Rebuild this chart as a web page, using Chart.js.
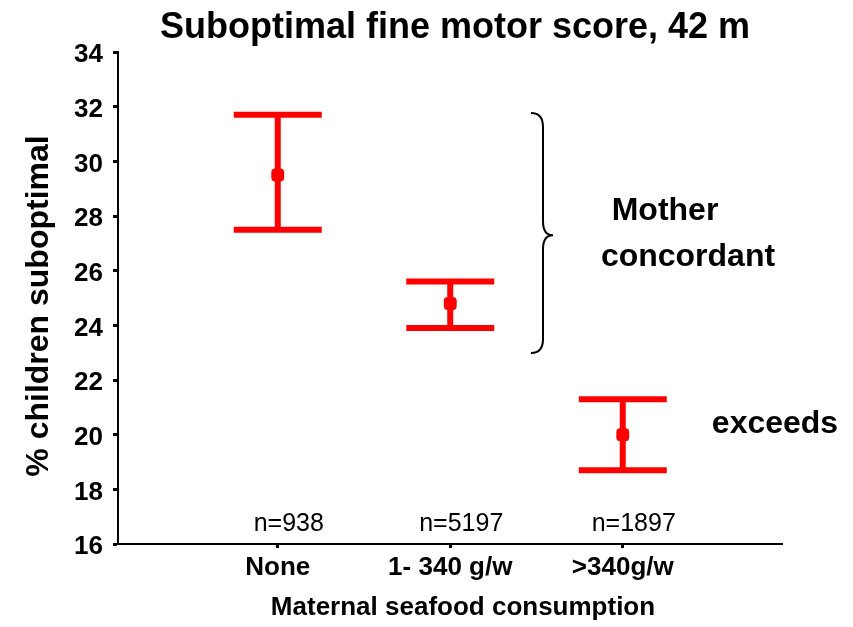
<!DOCTYPE html>
<html>
<head>
<meta charset="utf-8">
<script src="https://cdn.jsdelivr.net/npm/chart.js@4"></script>
<style>
  html, body { margin: 0; padding: 0; background: #fff; }
  canvas { display: block; }
</style>
</head>
<body>
<canvas id="chart" width="853" height="627"></canvas>
<script>
// Maternal seafood consumption groups and the share of children with a suboptimal score
const categories = ['None', '1- 340 g/w', '>340g/w'];
const sampleSizes = ['n=938', 'n=5197', 'n=1897'];
const percentSuboptimal = [29.5, 24.8, 20.0];
const ciLower = [27.5, 23.9, 18.7];
const ciUpper = [31.7, 25.6, 21.3];
const yTickValues = [16, 18, 20, 22, 24, 26, 28, 30, 32, 34];

const FONT = "'Liberation Sans', Arial, Helvetica, sans-serif";
const RED = '#ff0000';

// Error bars (interval + caps) drawn under the point markers
const errorBars = {
  id: 'errorBars',
  beforeDatasetsDraw(chart) {
    const { ctx, scales: { x, y } } = chart;
    ctx.save();
    ctx.strokeStyle = RED;
    ctx.lineCap = 'butt';
    categories.forEach((c, i) => {
      const px = x.getPixelForValue(i + 1);
      const top = y.getPixelForValue(ciUpper[i]);
      const bot = y.getPixelForValue(ciLower[i]);
      ctx.lineWidth = 6;
      ctx.beginPath();
      ctx.moveTo(px, top);
      ctx.lineTo(px, bot);
      ctx.stroke();
      ctx.beginPath();
      ctx.moveTo(px - 44, top);
      ctx.lineTo(px + 44, top);
      ctx.moveTo(px - 44, bot);
      ctx.lineTo(px + 44, bot);
      ctx.stroke();
    });
    ctx.restore();
  }
};

// Titles, sample sizes, the brace and its notes
const annotations = {
  id: 'annotations',
  afterDraw(chart) {
    const { ctx, scales: { x, y } } = chart;
    ctx.save();
    ctx.fillStyle = '#000';
    ctx.textBaseline = 'alphabetic';
    ctx.textAlign = 'center';

    ctx.font = `bold 36px ${FONT}`;
    ctx.fillText('Suboptimal fine motor score, 42 m', 455, 38);

    ctx.font = `bold 26px ${FONT}`;
    ctx.fillText('Maternal seafood consumption', 463, 615);

    ctx.font = `25px ${FONT}`;
    sampleSizes.forEach((s, i) => {
      ctx.fillText(s, x.getPixelForValue(i + 1) + 11, 531);
    });

    ctx.save();
    ctx.translate(48, 306);
    ctx.rotate(-Math.PI / 2);
    ctx.font = `bold 32px ${FONT}`;
    ctx.fillText('% children suboptimal', 0, 0);
    ctx.restore();

    ctx.font = `bold 32px ${FONT}`;
    ctx.fillText('Mother', 665, 220);
    ctx.fillText('concordant', 688, 266);
    ctx.fillText('exceeds', 775, 433);

    // right-facing curly brace spanning the two concordant groups
    const bTop = y.getPixelForValue(31.77);
    const bBot = y.getPixelForValue(22.99);
    const bMid = y.getPixelForValue(27.3);
    const xl = 531, xm = 543, xt = 553;
    ctx.strokeStyle = '#000';
    ctx.lineWidth = 2;
    ctx.beginPath();
    ctx.moveTo(xl, bTop);
    ctx.quadraticCurveTo(xm, bTop, xm, bTop + 14);
    ctx.lineTo(xm, bMid - 14);
    ctx.quadraticCurveTo(xm, bMid, xt, bMid);
    ctx.quadraticCurveTo(xm, bMid, xm, bMid + 14);
    ctx.lineTo(xm, bBot - 14);
    ctx.quadraticCurveTo(xm, bBot, xl, bBot);
    ctx.stroke();
    ctx.restore();
  }
};

new Chart(document.getElementById('chart'), {
  type: 'scatter',
  data: {
    datasets: [{
      data: categories.map((c, i) => ({ x: i + 1, y: percentSuboptimal[i] })),
      pointStyle: 'rectRounded',
      pointRadius: 7.5,
      pointHoverRadius: 7.5,
      backgroundColor: RED,
      borderColor: RED,
      borderWidth: 0
    }]
  },
  options: {
    responsive: false,
    animation: false,
    devicePixelRatio: 1,
    layout: { padding: { top: 52, right: 71, left: 0, bottom: 0 } },
    plugins: {
      legend: { display: false },
      tooltip: { enabled: false },
      title: { display: false }
    },
    scales: {
      x: {
        type: 'linear',
        min: 0.074,
        max: 3.923,
        afterBuildTicks(scale) {
          scale.ticks = categories.map((c, i) => ({ value: i + 1 }));
        },
        afterFit(scale) { scale.height = 83; },
        ticks: {
          autoSkip: false,
          maxRotation: 0,
          color: '#000',
          font: { family: FONT, size: 26, weight: 'bold' },
          padding: 4,
          callback: (v, i) => categories[i]
        },
        grid: {
          drawOnChartArea: false,
          drawTicks: true,
          tickLength: 4,
          tickWidth: 3,
          tickColor: '#000'
        },
        border: { display: true, color: '#000', width: 2 }
      },
      y: {
        min: 16,
        max: 34,
        afterBuildTicks(scale) {
          scale.ticks = yTickValues.map(v => ({ value: v }));
        },
        afterFit(scale) { scale.width = 118; },
        ticks: {
          color: '#000',
          font: { family: FONT, size: 26, weight: 'bold' },
          padding: 10,
          labelOffset: 3
        },
        grid: {
          drawOnChartArea: false,
          drawTicks: true,
          tickLength: 5,
          tickWidth: 3,
          tickColor: '#000'
        },
        border: { display: true, color: '#000', width: 2 }
      }
    }
  },
  plugins: [errorBars, annotations]
});
</script>
</body>
</html>
